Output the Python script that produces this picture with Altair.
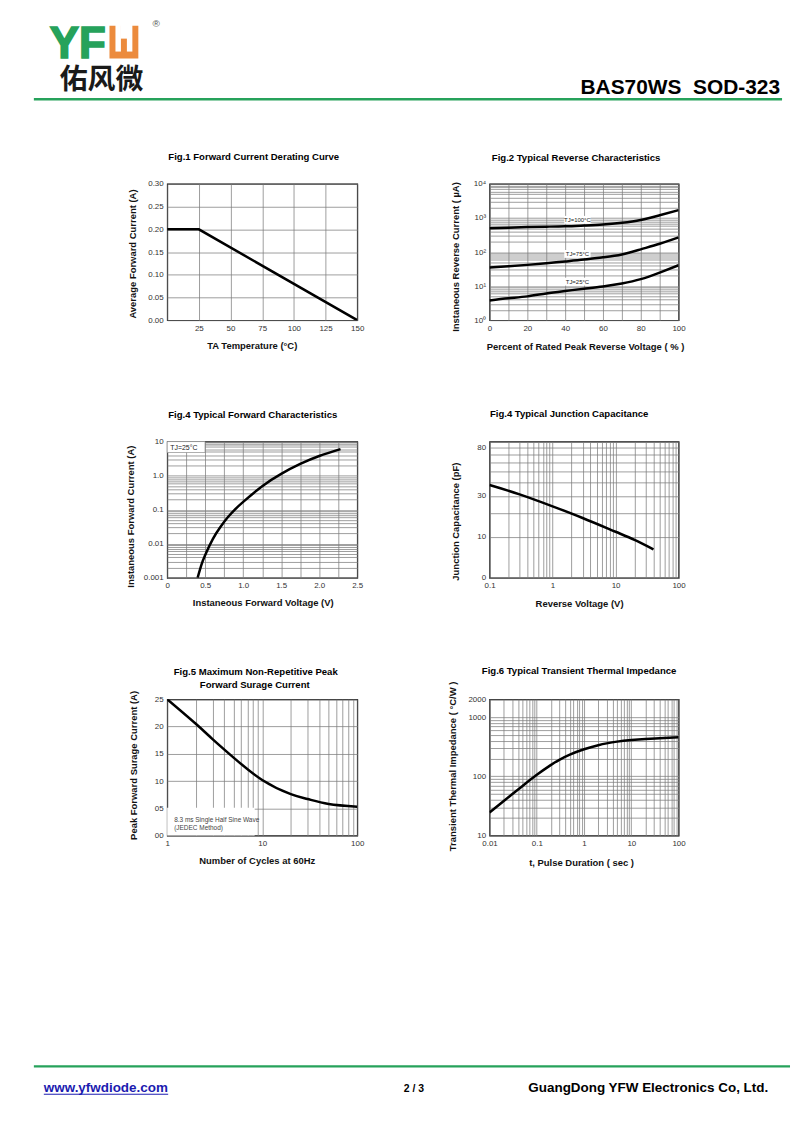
import altair as alt
import pandas as pd

FONT = "Liberation Sans"
CJK = "Noto Sans CJK SC"
GREEN = "#26a25b"
ORANGE = "#ec8b3d"
GRID = "#7d7d7d"
LINK = "#1b1bb0"

# ---------------- data ----------------
# Fig.1 Forward current derating
fig1_temp = [0, 25, 150]
fig1_current = [0.20, 0.20, 0.00]
fig1_xticks = [0, 25, 50, 75, 100, 125, 150]
fig1_xlabels = [(25, "25"), (50, "50"), (75, "75"), (100, "100"), (125, "125"), (150, "150")]
fig1_yticks = [0, 0.05, 0.10, 0.15, 0.20, 0.25, 0.30]
fig1_ylabels = [(0, "0.00"), (0.05, "0.05"), (0.10, "0.10"), (0.15, "0.15"),
                (0.20, "0.20"), (0.25, "0.25"), (0.30, "0.30")]

# Fig.2 Typical reverse characteristics (uA)
fig2_pct = [0, 10, 20, 30, 40, 50, 60, 70, 80, 90, 100]
fig2_t100 = [500, 520, 540, 555, 570, 600, 640, 720, 870, 1200, 1700]
fig2_t75 = [35, 38, 42, 47, 53, 60, 70, 85, 120, 175, 270]
fig2_t25 = [3.8, 4.4, 5.0, 6.1, 7.2, 8.4, 9.8, 12, 16, 25, 41]
fig2_label_text = ["TJ=100°C", "TJ=75°C", "TJ=25°C"]
fig2_label_pct = [46.5, 46.5, 46.5]
fig2_label_ua = [880, 88, 13.5]
fig2_xticks = [0, 10, 20, 30, 40, 50, 60, 70, 80, 90, 100]
fig2_xlabels = [(0, "0"), (20, "20"), (40, "40"), (60, "60"), (80, "80"), (100, "100")]
fig2_ylabels = [(1, "10⁰"), (10, "10¹"), (100, "10²"), (1000, "10³"), (10000, "10⁴")]

# Fig.4 Typical forward characteristics
fig3_v = [0.40, 0.45, 0.50, 0.60, 0.70, 0.80, 0.90, 1.00, 1.25, 1.50, 1.75, 2.00, 2.28]
fig3_i = [0.001, 0.0024, 0.0047, 0.0137, 0.031, 0.061, 0.106, 0.17, 0.49, 1.13, 2.2, 3.76, 5.98]
fig3_xticks = [0, 0.25, 0.5, 0.75, 1.0, 1.25, 1.5, 1.75, 2.0, 2.25, 2.5]
fig3_xlabels = [(0, "0"), (0.5, "0.5"), (1.0, "1.0"), (1.5, "1.5"), (2.0, "2.0"), (2.5, "2.5")]
fig3_ylabels = [(0.001, "0.001"), (0.01, "0.01"), (0.1, "0.1"), (1, "1.0"), (10, "10")]

# Fig.4 Typical junction capacitance
cap_v = [0.1, 0.3, 1, 3, 10, 20, 40]
cap_c = [38, 31, 23.5, 17.5, 11.8, 9.0, 6.2]
cap_yticks = [0, 10, 20, 30, 40, 50, 60, 70, 80, 90]
cap_xlabels = [(0.1, "0.1"), (1, "1"), (10, "10"), (100, "100")]
cap_ylabels = [(0, "0"), (10, "10"), (30, "30"), (80, "80")]

# Fig.5 Surge current
surge_n = [1, 2, 3, 5, 10, 20, 30, 50, 100]
surge_i = [25, 20.5, 17.7, 14.3, 10.2, 7.6, 6.7, 5.8, 5.3]
surge_yticks = [0, 5, 10, 15, 20, 25]
surge_xlabels = [(1, "1"), (10, "10"), (100, "100")]
surge_ylabels = [(0, "00"), (5, "05"), (10, "10"), (15, "15"), (20, "20"), (25, "25")]

# Fig.6 Transient thermal impedance
zth_t = [0.01, 0.02, 0.03, 0.05, 0.1, 0.2, 0.3, 0.5, 1, 2, 3, 5, 10, 20, 50, 100]
zth_z = [24.5, 38.2, 49.8, 68.9, 106, 156, 190, 232, 286, 335, 360, 385, 409, 427, 445, 456]
zth_xlabels = [(0.01, "0.01"), (0.1, "0.1"), (1, "1"), (10, "10"), (100, "100")]
zth_ylabels = [(10, "10"), (100, "100"), (1000, "1000"), (2000, "2000")]

dummy = pd.DataFrame({"d": [0]})


def log_grid(lo, hi):
    vals = []
    for k in range(lo, hi):
        for m in range(1, 10):
            vals.append(round(m * 10 ** k, 10))
    vals.append(round(10 ** hi, 10))
    return vals


def label_expr(pairs):
    parts = [f"abs(datum.value - ({v})) < {1e-9 + abs(v) * 1e-6:.12f} ? '{s}'" for v, s in pairs]
    return " : ".join(parts) + " : ''"


def x_axis(values, labels, title, tx, ty):
    return alt.Axis(values=values, labelExpr=label_expr(labels), title=title, grid=True,
                    titleX=tx, titleY=ty, titleAngle=0, titleBaseline="middle", titleAlign="center",
                    labelFlush=False, labelOverlap=False)


def y_axis(values, labels, title, tx, ty):
    return alt.Axis(values=values, labelExpr=label_expr(labels), title=title, grid=True,
                    titleX=tx, titleY=ty, titleAngle=270, titleBaseline="middle", titleAlign="center",
                    labelFlush=False, labelOverlap=False)


def txt(text, x, y, size=9.6, weight="bold", align="center", baseline="middle", color="black", font=FONT, **kw):
    return alt.Chart(dummy).mark_text(text=text, fontSize=size, fontWeight=weight, align=align,
                                      baseline=baseline, color=color, font=font, **kw).encode(
        x=alt.value(x), y=alt.value(y))


def box(x, x2, y, y2, fill, **kw):
    return alt.Chart(dummy).mark_rect(fill=fill, **kw).encode(
        x=alt.value(x), x2=alt.value(x2), y=alt.value(y), y2=alt.value(y2))


def hrule(x, x2, y, color, width):
    return alt.Chart(dummy).mark_rule(color=color, strokeWidth=width).encode(
        x=alt.value(x), x2=alt.value(x2), y=alt.value(y))


def panel(layers, w, h):
    return alt.layer(*layers).properties(
        width=w, height=h, view=alt.ViewBackground(stroke="black", strokeWidth=1.2))


def curve(df, xenc, yenc, interp="natural", **kw):
    return alt.Chart(df).mark_line(color="black", strokeWidth=2.5, interpolate=interp, clip=True).encode(
        x=xenc, y=yenc, **kw)


W_L, W_R, H = 191, 190, 137

# ---------------- Fig.1 ----------------
x1 = alt.X("x:Q", scale=alt.Scale(domain=[0, 150], nice=False, zero=False),
           axis=x_axis(fig1_xticks, fig1_xlabels, "TA  Temperature (°C)", 85, 25))
y1 = alt.Y("y:Q", scale=alt.Scale(domain=[0, 0.30], nice=False),
           axis=y_axis(fig1_yticks, fig1_ylabels, "Average Forward Current (A)", -35, 70))
df1 = pd.DataFrame({"x": fig1_temp, "y": fig1_current})
fig1 = panel([curve(df1, x1, y1, interp="linear"),
              txt("Fig.1  Forward Current Derating Curve", 87, -27)], W_L, H)

# ---------------- Fig.2 ----------------
x2 = alt.X("x:Q", scale=alt.Scale(domain=[0, 100], nice=False, zero=False),
           axis=x_axis(fig2_xticks, fig2_xlabels, "Percent of Rated Peak Reverse Voltage ( % )", 96, 26))
y2 = alt.Y("y:Q", scale=alt.Scale(type="log", domain=[1, 10000], nice=False),
           axis=y_axis(log_grid(0, 4), fig2_ylabels, "Instaneous Reverse Current ( µA)", -34, 73))
rows = []
for name, ser in [("100", fig2_t100), ("75", fig2_t75), ("25", fig2_t25)]:
    for p, v in zip(fig2_pct, ser):
        rows.append({"x": p, "y": v, "s": name})
df2 = pd.DataFrame(rows)
df2l = pd.DataFrame({"x": fig2_label_pct, "y": fig2_label_ua, "t": fig2_label_text})
fig2 = panel([
    alt.Chart(df2l).mark_point(shape="M-1,-0.3H1V0.3H-1Z", filled=True, fill="white", opacity=1,
                               size=700, strokeWidth=0).encode(x=x2, y=y2),
    curve(df2, x2, y2, detail="s:N"),
    alt.Chart(df2l).mark_text(fontSize=6, font=FONT, color="#222").encode(x=x2, y=y2, text="t:N"),
    txt("Fig.2  Typical Reverse Characteristics", 87, -26),
], W_R, H)

# ---------------- Fig.4 forward ----------------
x3 = alt.X("x:Q", scale=alt.Scale(domain=[0, 2.5], nice=False, zero=False),
           axis=x_axis(fig3_xticks, fig3_xlabels, "Instaneous Forward Voltage (V)", 96, 25))
y3 = alt.Y("y:Q", scale=alt.Scale(type="log", domain=[0.001, 10], nice=False),
           axis=y_axis(log_grid(-3, 1), fig3_ylabels, "Instaneous Forward Current (A)", -37, 75))
df3 = pd.DataFrame({"x": fig3_v, "y": fig3_i})
fig3 = panel([
    box(0, 38, 0, 11, "white", stroke="#888888", strokeWidth=0.6),
    curve(df3, x3, y3),
    txt("TJ=25°C", 3, 6, size=7, weight="normal", align="left", color="#222"),
    txt("Fig.4  Typical Forward Characteristics", 86, -27),
], W_L, H)

# ---------------- Fig.4 capacitance ----------------
x4 = alt.X("x:Q", scale=alt.Scale(type="log", domain=[0.1, 100], nice=False),
           axis=x_axis(log_grid(-1, 2), cap_xlabels, "Reverse  Voltage (V)", 90, 26))
y4 = alt.Y("y:Q", scale=alt.Scale(type="symlog", constant=10, domain=[0, 90], nice=False, zero=False),
           axis=y_axis(cap_yticks, cap_ylabels, "Junction Capacitance (pF)", -34, 80))
df4 = pd.DataFrame({"x": cap_v, "y": cap_c})
fig4 = panel([curve(df4, x4, y4),
              txt("Fig.4  Typical Junction Capacitance", 80, -28)], W_R, H)

# ---------------- Fig.5 ----------------
x5 = alt.X("x:Q", scale=alt.Scale(type="log", domain=[1, 100], nice=False),
           axis=x_axis(log_grid(0, 2), surge_xlabels, "Number of Cycles at 60Hz", 90, 25))
y5 = alt.Y("y:Q", scale=alt.Scale(domain=[0, 25], nice=False),
           axis=y_axis(surge_yticks, surge_ylabels, "Peak Forward Surage Current (A)", -34, 66))
df5 = pd.DataFrame({"x": surge_n, "y": surge_i})
fig5 = panel([
    box(0, 88, 109, 137, "white"),
    curve(df5, x5, y5),
    txt("8.3 ms Single Half Sine Wave", 7, 121, size=6.5, weight="normal", align="left", color="#444"),
    txt("(JEDEC Method)", 7, 129, size=6.5, weight="normal", align="left", color="#444"),
    txt("Fig.5  Maximum Non-Repetitive Peak", 89, -27),
    txt("Forward Surage Current", 88, -14),
], W_L, H)

# ---------------- Fig.6 ----------------
x6 = alt.X("x:Q", scale=alt.Scale(type="log", domain=[0.01, 100], nice=False),
           axis=x_axis(log_grid(-2, 2), zth_xlabels, "t, Pulse Duration ( sec )", 92, 27))
y6 = alt.Y("y:Q", scale=alt.Scale(type="log", domain=[10, 2000], nice=False),
           axis=y_axis(log_grid(1, 3) + [2000], zth_ylabels, "Transient Thermal Impedance ( °C/W )", -37, 67))
df6 = pd.DataFrame({"x": zth_t, "y": zth_z})
fig6 = panel([curve(df6, x6, y6),
              txt("Fig.6  Typical Transient Thermal Impedance", 90, -28)], W_R, H)

# ---------------- header (in first spacer) ----------------
HY = -173
header = alt.layer(
    box(0, 1, HY, HY + 1, "white"),  # anchors page top-left
    txt("YF", 38, HY + 55, size=44, weight="bold", align="left", baseline="bottom", color=GREEN,
        stroke=GREEN, strokeWidth=1.6),
    box(98, 127, HY + 14, HY + 47, ORANGE),
    box(104, 109.5, HY + 13, HY + 40, "white"),
    box(115.5, 121, HY + 13, HY + 40, "white"),
    box(109, 116, HY + 13, HY + 27, "white"),
    txt("®", 145, HY + 12, size=10, weight="normal", color="#555555"),
    txt("佑风微", 90, HY + 70, size=28, weight="bold", color="#1a1a1a", font=CJK),
    txt("BAS70WS\u00a0 SOD-323", 772, HY + 83, size=21, weight="bold", align="right", baseline="alphabetic"),
    hrule(22, 774, HY + 88, GREEN, 2.5),
).properties(width=23, height=10)

# ---------------- footer (in third spacer) ----------------
FY = 139
footer = alt.layer(
    hrule(22, 782, FY + 230, GREEN, 2.5),
    txt("www.yfwdiode.com", 32, FY + 256, size=13.5, weight="bold", align="left", baseline="alphabetic",
        color=LINK),
    hrule(32, 157, FY + 258, LINK, 1),
    txt("2 / 3", 404, FY + 256, size=10.5, weight="bold", baseline="alphabetic"),
    txt("GuangDong YFW Electronics Co, Ltd.", 519, FY + 256, size=13.5, weight="bold", align="left",
        baseline="alphabetic"),
).properties(width=23, height=10)

spacer = alt.Chart(dummy).mark_point(opacity=0).encode(x=alt.value(0), y=alt.value(0)).properties(
    width=23, height=10)

page = alt.concat(header, fig1, fig2, spacer, fig3, fig4, footer, fig5, fig6,
                  columns=3, spacing=alt.RowColnumber(row=122, column=133),
                  bounds="flush", align="each", padding=0)

chart = page.configure(font=FONT).configure_view(stroke="transparent").configure_axis(
    labelFont=FONT, labelFontSize=8, labelColor="#333333",
    titleFont=FONT, titleFontSize=9.5, titleFontWeight="bold", titleColor="#111111",
    ticks=False, domain=False, gridColor=GRID, gridWidth=0.75, gridOpacity=1, labelPadding=4,
)

chart.save("out.html", embed_options={"renderer": "svg", "actions": False})
